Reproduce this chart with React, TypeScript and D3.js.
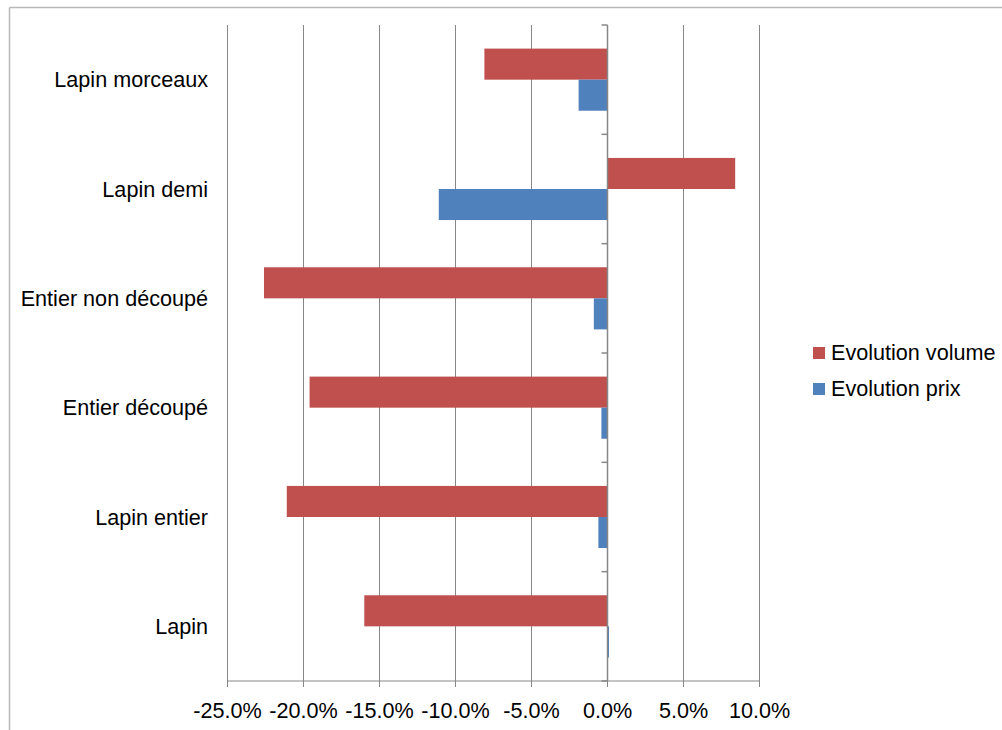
import React from "react";
import * as d3 from "d3";

const categories = ["Lapin morceaux", "Lapin demi", "Entier non découpé", "Entier découpé", "Lapin entier", "Lapin"];
const volumeValues = [-8.1, 8.4, -22.6, -19.6, -21.1, -16.0];
const prixValues = [-1.9, -11.1, -0.9, -0.4, -0.6, 0.1];
const xTicks = [-25, -20, -15, -10, -5, 0, 5, 10];
const seriesNames = ["Evolution volume", "Evolution prix"];
const seriesColors = ["#C0504D", "#4F81BD"];

export default function App() {
  const W = 1002, H = 730;
  const left = 227.5, right = 759.5, top = 25, bottom = 681;
  const x = d3.scaleLinear().domain([-25, 10]).range([left, right]);
  const y = d3.scaleBand().domain(categories).range([top, bottom]);
  const inner = d3.scaleBand().domain(seriesNames).range([0, y.bandwidth()]).paddingInner(0).paddingOuter(0.76);
  const font = "'Liberation Sans', Arial, sans-serif";
  const fs = 21.6;
  const series = [volumeValues, prixValues];
  const x0 = x(0);
  const boundaries = d3.range(categories.length + 1).map(i => top + i * y.step());

  return (
    <svg width={W} height={H} style={{ position: "absolute", left: 0, top: 0 }} fontFamily={font}>
      <rect x={0} y={0} width={W} height={H} fill="#fff" />
      <line x1={9.5} x2={W} y1={7.5} y2={7.5} stroke="#b8b8b8" strokeWidth={1.5} />
      <line x1={9.5} x2={9.5} y1={7.5} y2={H} stroke="#b8b8b8" strokeWidth={1.5} />
      {xTicks.map(t => (
        <g key={t}>
          <line x1={x(t)} x2={x(t)} y1={top} y2={bottom} stroke="#878787" strokeWidth={1} />
          <line x1={x(t)} x2={x(t)} y1={bottom} y2={bottom + 6} stroke="#878787" strokeWidth={1} />
          <text x={x(t)} y={718} fontSize={fs} textAnchor="middle" fill="#000">{t.toFixed(1) + "%"}</text>
        </g>
      ))}
      <line x1={left} x2={right} y1={bottom} y2={bottom} stroke="#878787" strokeWidth={1} />
      {categories.map((c, ci) => (
        <g key={c}>
          {series.map((vals, si) => {
            const v = vals[ci];
            const bx = Math.min(x(v), x0);
            const bw = Math.abs(x(v) - x0);
            return (
              <rect key={si} x={bx} y={(y(c) as number) + (inner(seriesNames[si]) as number)} width={bw} height={inner.bandwidth()}
                fill={seriesColors[si]} />
            );
          })}
          <text x={208} y={(y(c) as number) + y.bandwidth() / 2 + 7.5} fontSize={fs} textAnchor="end" fill="#000">{c}</text>
        </g>
      ))}
      <line x1={x0} x2={x0} y1={top} y2={bottom} stroke="#878787" strokeWidth={1.5} />
      {boundaries.map((b, i) => (
        <line key={i} x1={x0 - 6} x2={x0} y1={b} y2={b} stroke="#878787" strokeWidth={1.5} />
      ))}
      {seriesNames.map((s, i) => (
        <g key={s}>
          <rect x={813} y={347 + i * 36} width={12} height={12} fill={seriesColors[i]} />
          <text x={831} y={360 + i * 36} fontSize={fs} fill="#000">{s}</text>
        </g>
      ))}
    </svg>
  );
}
